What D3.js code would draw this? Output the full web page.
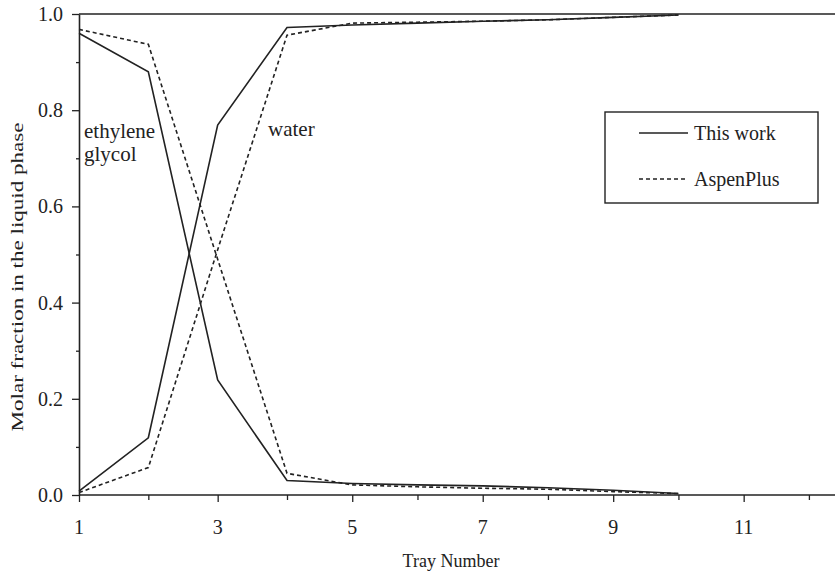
<!DOCTYPE html>
<html><head><meta charset="utf-8">
<script src="https://cdn.jsdelivr.net/npm/d3@7"></script>
<style>body{margin:0;background:#fff}svg{display:block}text{font-family:"Liberation Serif","Times New Roman",serif;fill:#222}</style>
</head><body><svg id="c" width="835" height="575"></svg>
<script>
const trays = [1,2,3,4,5,6,7,8,9,10];
const egThisWork    = [0.960,0.880,0.239,0.030,0.024,0.021,0.019,0.015,0.010,0.003];
const egAspen       = [0.968,0.937,0.490,0.045,0.021,0.017,0.014,0.012,0.007,0.003];
const waterThisWork = [0.008,0.119,0.769,0.972,0.977,0.981,0.985,0.988,0.993,0.998];
const waterAspen    = [0.005,0.057,0.510,0.956,0.981,0.983,0.985,0.988,0.993,0.998];
const xTicks = [1,2,3,4,5,6,7,8,9,10,11,12];
const xLabels = [1,3,5,7,9,11];
const yTicks = [0,0.1,0.2,0.3,0.4,0.5,0.6,0.7,0.8,0.9,1.0];
const yLabels = [0,0.2,0.4,0.6,0.8,1.0];
const legendItems = ["This work","AspenPlus"];

const svg = d3.select("#c");
const x = d3.scaleLinear().domain([1,4,12.4]).range([79,287,835]);
const y = d3.scaleLinear().domain([0,1]).range([495,14]);
const ink = "#222";

// top line at 1.0
svg.append("line").attr("x1",79).attr("x2",835).attr("y1",y(1)).attr("y2",y(1))
  .attr("stroke",ink).attr("stroke-width",1.6);

// y axis
const yAx = svg.append("g").attr("transform","translate(79,0)")
  .call(d3.axisLeft(y).tickValues(yTicks).tickSize(0).tickFormat(""));
yAx.select(".domain").attr("stroke",ink).attr("stroke-width",1.6);
yAx.selectAll(".tick line").attr("stroke",ink).attr("stroke-width",1.3)
  .attr("x2",d=>yLabels.some(v=>Math.abs(v-d)<1e-9)?-7:-3);
svg.append("g").selectAll("text").data(yLabels).join("text")
  .attr("x",63).attr("y",d=>y(d)).attr("dy","0.35em").attr("text-anchor","end")
  .attr("font-size",20).text(d=>d.toFixed(1));

// x axis
const xAx = svg.append("g").attr("transform","translate(0,495)")
  .call(d3.axisBottom(x).tickValues(xTicks).tickSize(0).tickFormat(""));
xAx.select(".domain").attr("stroke",ink).attr("stroke-width",1.6).attr("d","M79,0H835");
xAx.selectAll(".tick line").attr("stroke",ink).attr("stroke-width",1.3)
  .attr("y2",d=>xLabels.includes(d)?7:5);
svg.append("g").selectAll("text").data(xLabels).join("text")
  .attr("x",d=>x(d)).attr("y",534).attr("text-anchor","middle")
  .attr("font-size",20).text(d=>d);

svg.append("text").attr("x",451).attr("y",567).attr("text-anchor","middle")
  .attr("font-size",18).text("Tray Number");
svg.append("text").attr("transform","translate(23,277) rotate(-90)")
  .attr("text-anchor","middle").attr("font-size",17)
  .attr("textLength",309).attr("lengthAdjust","spacingAndGlyphs")
  .text("Molar fraction in the liquid phase");

// series
const line = d3.line().x((d,i)=>x(trays[i])).y(d=>y(d));
const series = [
  {v:egThisWork, dash:null},
  {v:waterThisWork, dash:null},
  {v:egAspen, dash:"4,3"},
  {v:waterAspen, dash:"4,3"}
];
svg.append("g").selectAll("path").data(series).join("path")
  .attr("d",d=>line(d.v)).attr("fill","none").attr("stroke",ink)
  .attr("stroke-width",1.6).attr("stroke-dasharray",d=>d.dash);

// annotations
svg.append("text").attr("x",84).attr("y",138).attr("font-size",21).text("ethylene");
svg.append("text").attr("x",84).attr("y",161).attr("font-size",21).text("glycol");
svg.append("text").attr("x",268).attr("y",136).attr("font-size",21).text("water");

// legend
const lg = svg.append("g");
lg.append("rect").attr("x",605).attr("y",112).attr("width",213).attr("height",91)
  .attr("fill","#fff").attr("stroke",ink).attr("stroke-width",1.4);
const rows = lg.selectAll("g.r").data(legendItems).join("g").attr("class","r")
  .attr("transform",(d,i)=>`translate(0,${133+i*46})`);
rows.append("line").attr("x1",639).attr("x2",688).attr("y1",0).attr("y2",0)
  .attr("stroke",ink).attr("stroke-width",1.5)
  .attr("stroke-dasharray",(d,i)=>i?"4,3":null);
rows.append("text").attr("x",694).attr("y",0).attr("dy","0.35em")
  .attr("font-size",20).text(d=>d);
</script></body></html>
